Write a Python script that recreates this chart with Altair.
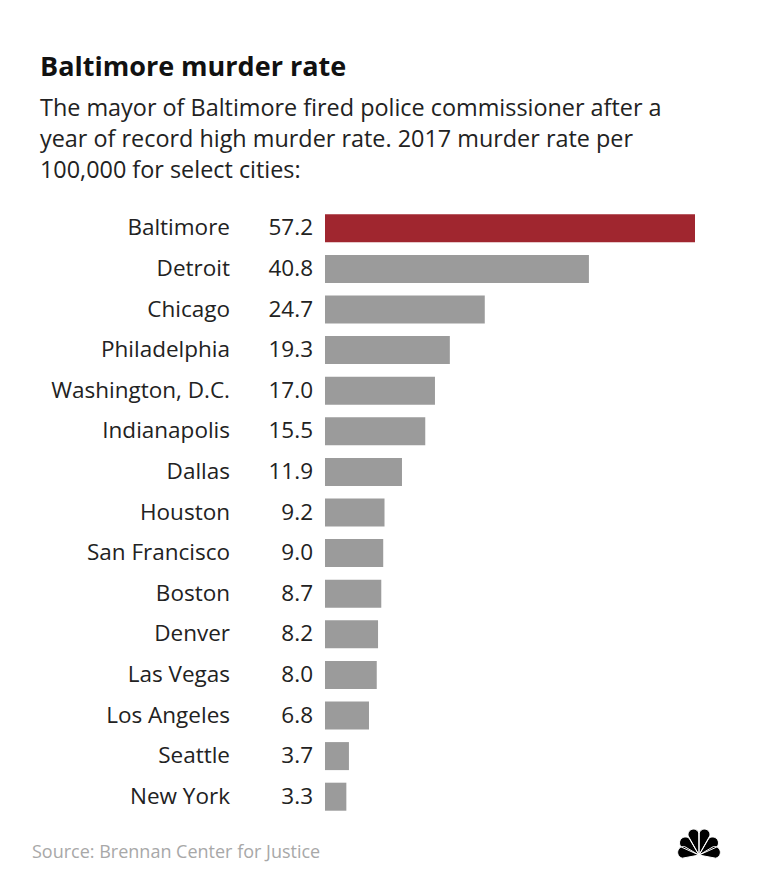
import math
import altair as alt
import pandas as pd

# ---- data ----
cities = ["Baltimore", "Detroit", "Chicago", "Philadelphia", "Washington, D.C.",
          "Indianapolis", "Dallas", "Houston", "San Francisco", "Boston",
          "Denver", "Las Vegas", "Los Angeles", "Seattle", "New York"]
rates = [57.2, 40.8, 24.7, 19.3, 17.0, 15.5, 11.9, 9.2, 9.0, 8.7, 8.2, 8.0, 6.8, 3.7, 3.3]
labels = [f"{v:.1f}" for v in rates]
highlight = ["Baltimore"]

title_text = "Baltimore murder rate"
subtitle_lines = [
    "The mayor of Baltimore fired police commissioner after a",
    "year of record high murder rate. 2017 murder rate per",
    "100,000 for select cities:",
]
source_text = "Source: Brennan Center for Justice"

df = pd.DataFrame({"city": cities, "rate": rates, "label": labels})
df["hl"] = df["city"].isin(highlight)

FONT = "Open Sans"
RED = "#a0262f"
GRAY = "#9b9b9b"

yenc = alt.Y("city:N", sort=cities, axis=None,
             scale=alt.Scale(paddingInner=0.31, paddingOuter=0.155))

base = alt.Chart(df)

bars = base.mark_bar(cornerRadius=0).encode(
    x=alt.X("rate:Q", axis=None, scale=alt.Scale(domain=[0, 57.2], nice=False, zero=True)),
    y=yenc,
    color=alt.condition(alt.datum.hl, alt.value(RED), alt.value(GRAY)),
)

city_txt = base.mark_text(align="right", baseline="middle", font=FONT,
                          fontSize=22.5, color="#222222").encode(
    y=yenc, x=alt.value(-95), text="city:N")

val_txt = base.mark_text(align="right", baseline="middle", font=FONT,
                         fontSize=22.5, color="#222222").encode(
    y=yenc, x=alt.value(-12), text="label:N")

one = alt.Data(values=[{"a": 1}])


def note(txt, x, y, size, color="#222222", weight="normal"):
    return alt.Chart(one).mark_text(align="left", baseline="alphabetic", font=FONT,
                                    fontSize=size, color=color, fontWeight=weight).encode(
        x=alt.value(x), y=alt.value(y), text=alt.value(txt))


layers = [bars, city_txt, val_txt]
layers.append(note(title_text, -285, -132, 27, "#111111", "bold"))
for i, line in enumerate(subtitle_lines):
    layers.append(note(line, -285, -92 + 31 * i, 23.4, "#222222"))
layers.append(note(source_text, -293, 650, 18, "#a8a8a8"))

# NBC-style peacock logo as a custom symbol path (decoration)
def petal(angle_deg, length, w):
    a = math.radians(angle_deg)
    ux, uy = math.sin(a), -math.cos(a)
    bx, by = 0.0, 0.6
    cx, cy = bx + ux * length, by + uy * length
    nx, ny = -uy, ux
    p1 = (cx - nx * w, cy - ny * w)
    p2 = (cx + nx * w, cy + ny * w)
    return (f"M{bx:.3f},{by:.3f}L{p1[0]:.3f},{p1[1]:.3f}"
            f"A{w:.3f},{w:.3f} 0 0 1 {p2[0]:.3f},{p2[1]:.3f}Z")

logo_path = "".join([
    petal(-80, 0.72, 0.27), petal(-48, 0.85, 0.27), petal(-15, 0.98, 0.25),
    petal(15, 0.98, 0.25), petal(48, 0.85, 0.27), petal(80, 0.72, 0.27),
])
logo = alt.Chart(one).mark_point(shape=logo_path, filled=True, fill="#000000",
                                 stroke="#ffffff", strokeWidth=1, opacity=1,
                                 size=1900).encode(
    x=alt.value(374), y=alt.value(634))
layers.append(logo)

chart = alt.layer(*layers).properties(
    width=370, height=609,
    autosize=alt.AutoSizeParams(type="none"),
    padding={"left": 325, "top": 208, "right": 65, "bottom": 78},
    background="#ffffff",
).configure_view(stroke=None)

chart.save("out.html", embed_options={"renderer": "svg", "actions": False})
